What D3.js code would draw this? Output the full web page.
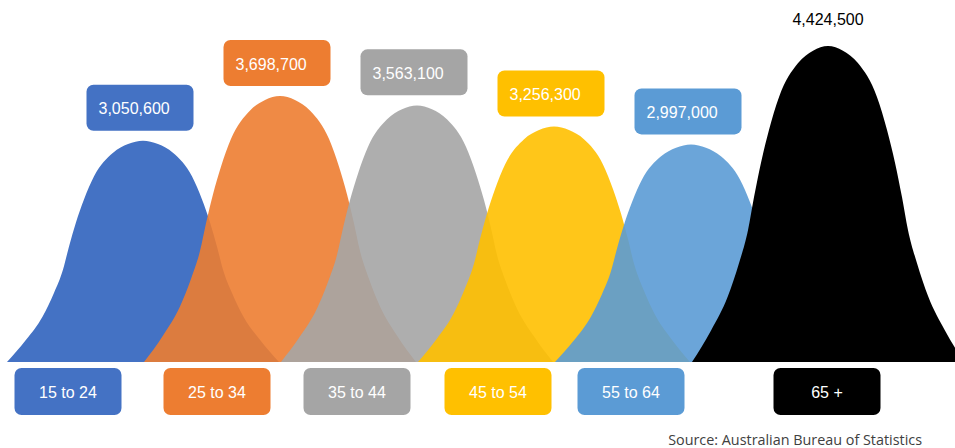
<!DOCTYPE html>
<html>
<head>
<meta charset="utf-8">
<script src="https://cdn.jsdelivr.net/npm/d3@7"></script>
<style>
  html, body { margin: 0; padding: 0; background: #ffffff; }
  svg { display: block; }
</style>
</head>
<body>
<svg id="chart" width="955" height="448"></svg>
<script>
// Population by age group
const categories = ["15 to 24", "25 to 34", "35 to 44", "45 to 54", "55 to 64", "65 +"];
const population = [3050600, 3698700, 3563100, 3256300, 2997000, 4424500];
const fills = ["#4472C4", "#ED7D31", "#A5A5A5", "#FFC000", "#5B9BD5", "#000000"];
const shapeOpacity = [1, 0.9, 0.9, 0.9, 0.9, 1];
// horizontal shift of each category tag relative to its bell
const tagShift = [-75, -63, -60, -56, -60, -1];

// half of a bell outline: [distance from centre (0..1), relative height (0..1)]
const bellProfile = [
  [0, 1], [0.11, 0.985], [0.22, 0.946], [0.36, 0.839], [0.434, 0.734],
  [0.493, 0.63], [0.544, 0.522], [0.588, 0.418], [0.654, 0.313],
  [0.737, 0.207], [0.86, 0.10], [1, 0]
];

const W = 955, H = 448;
const baseY = 362;
const halfWidth = 136;

const svg = d3.select("#chart");

const x = d3.scalePoint().domain(categories).range([143, 828]);
const y = d3.scaleLinear().domain([-160000, 4424500]).range([baseY, 46]);

const data = categories.map((c, i) => ({
  cat: c, value: population[i], fill: fills[i], op: shapeOpacity[i], dx: tagShift[i]
}));

// full symmetric outline
const outline = bellProfile.slice().reverse().map(([t, f]) => [-t, f])
  .concat(bellProfile.slice(1).map(([t, f]) => [t, f]));

const area = d3.area()
  .x(p => p[0])
  .y0(baseY)
  .y1(p => p[1])
  .curve(d3.curveMonotoneX);

const clip = svg.append("defs").append("clipPath").attr("id", "plotClip");
clip.append("rect").attr("x", 0).attr("y", 0).attr("width", W).attr("height", H);

const shapes = svg.append("g").attr("clip-path", "url(#plotClip)");
shapes.selectAll("path.bell")
  .data(data)
  .join("path")
  .attr("class", "bell")
  .attr("fill", d => d.fill)
  .attr("fill-opacity", d => d.op)
  .attr("d", d => {
    const cx = x(d.cat);
    const top = y(d.value);
    return area(outline.map(([t, f]) => [cx + t * halfWidth, baseY - f * (baseY - top)]));
  });

const labelFont = "'Liberation Sans', Arial, Helvetica, sans-serif";
const fmt = d3.format(",");
const boxW = 107, boxH = 46;

// value tags above each bell
const valueTags = svg.append("g");
data.forEach((d, i) => {
  const cx = x(d.cat);
  const top = y(d.value);
  if (i === data.length - 1) {
    valueTags.append("text")
      .attr("x", cx)
      .attr("y", top - 27)
      .attr("text-anchor", "middle")
      .attr("dominant-baseline", "central")
      .attr("font-family", labelFont)
      .attr("font-size", 16)
      .attr("fill", "#000000")
      .text(fmt(d.value));
    return;
  }
  const left = cx - 3 - boxW / 2;
  const bottom = top - 10;
  valueTags.append("rect")
    .attr("x", left).attr("y", bottom - boxH)
    .attr("width", boxW).attr("height", boxH)
    .attr("rx", 7).attr("ry", 7)
    .attr("fill", d.fill);
  valueTags.append("text")
    .attr("x", left + 12)
    .attr("y", bottom - boxH / 2 + 1)
    .attr("dominant-baseline", "central")
    .attr("font-family", labelFont)
    .attr("font-size", 16)
    .attr("fill", "#ffffff")
    .text(fmt(d.value));
});

// category tags under the baseline
const catTags = svg.append("g");
catTags.selectAll("rect")
  .data(data)
  .join("rect")
  .attr("x", d => x(d.cat) + d.dx - boxW / 2)
  .attr("y", 368)
  .attr("width", boxW)
  .attr("height", 47)
  .attr("rx", 7).attr("ry", 7)
  .attr("fill", d => d.fill);
catTags.selectAll("text")
  .data(data)
  .join("text")
  .attr("x", d => x(d.cat) + d.dx)
  .attr("y", 392)
  .attr("text-anchor", "middle")
  .attr("dominant-baseline", "central")
  .attr("font-family", labelFont)
  .attr("font-size", 16)
  .attr("fill", "#ffffff")
  .text(d => d.cat);

// source note
const src = svg.append("text")
  .attr("x", 922)
  .attr("y", 445)
  .attr("text-anchor", "end")
  .attr("font-family", "'Open Sans', 'DejaVu Sans', sans-serif")
  .attr("font-size", 13)
  .attr("fill", "#404040")
  .text("Source: Australian Bureau of Statistics");
const w = src.node().getComputedTextLength();
if (w > 0) src.attr("font-size", 13 * 254 / w);
</script>
</body>
</html>
